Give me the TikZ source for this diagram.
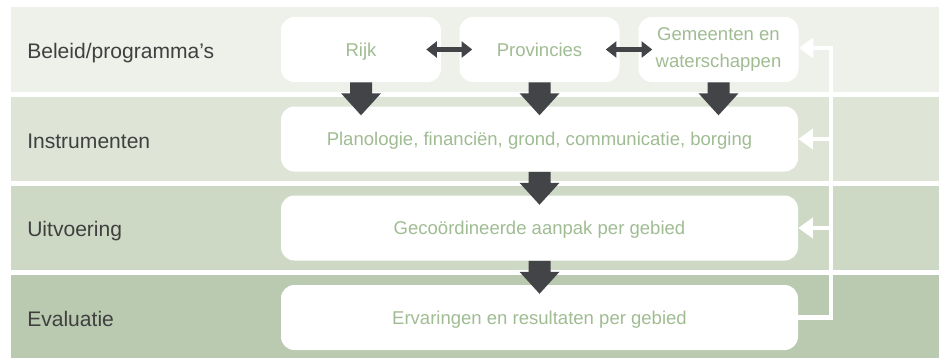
\documentclass[tikz,border=0pt]{standalone}
\usepackage{fontspec}
\setmainfont{Liberation Sans}
\usetikzlibrary{arrows.meta,calc}
\definecolor{bandA}{RGB}{238,240,234}
\definecolor{bandB}{RGB}{222,229,214}
\definecolor{bandC}{RGB}{205,217,197}
\definecolor{bandD}{RGB}{185,202,176}
\definecolor{boxtext}{RGB}{160,188,146}
\definecolor{labelc}{RGB}{64,64,64}
\definecolor{darkc}{RGB}{67,68,72}
\newcommand\blockarrow[1]{%
  \fill[darkc] ($(#1)+(-11,0)$) -- ($(#1)+(-11,11)$) -- ($(#1)+(-20,11)$) -- ($(#1)+(0,33)$)
    -- ($(#1)+(20,11)$) -- ($(#1)+(11,11)$) -- ($(#1)+(11,0)$) -- cycle;}
\begin{document}
\begin{tikzpicture}[x=0.75pt,y=-0.75pt,
  lbl/.style={anchor=west,inner sep=0pt,text=labelc,font=\fontsize{15.8}{19}\selectfont,
    text height=11.3pt,text depth=0pt},
  box/.style={fill=white,rounded corners=10pt,text=boxtext,align=center,
    font=\fontsize{13.9}{20}\selectfont,inner sep=0pt,minimum height=48.75pt},
  onel/.style={text height=9.95pt,text depth=0pt},
  smallbox/.style={box,minimum width=120pt},
  widebox/.style={box,onel,minimum width=387.75pt},
  dbl/.style={draw=darkc,line width=4pt,
    {Triangle[length=8pt,width=12pt]}-{Triangle[length=8pt,width=12pt]}},
  fb/.style={draw=white,line width=3.2pt,line join=miter,-{Triangle[length=11pt,width=15pt]}}
]
\useasboundingbox (0,0) rectangle (939,358);
% bands
\fill[bandA] (11,7) rectangle (939,92);
\fill[bandB] (11,97) rectangle (939,181);
\fill[bandC] (11,186) rectangle (939,270);
\fill[bandD] (11,275) rectangle (939,358);
% labels
\node[lbl] (l1) at (27,51) {Beleid/programma’s};
\node[lbl] (l2) at (27,140.5) {Instrumenten};
\node[lbl] (l3) at (27,229) {Uitvoering};
\node[lbl] (l4) at (27,318.5) {Evaluatie};
% boxes
\node[smallbox,onel] (rijk) at (361,49.5) {Rijk};
\node[smallbox,onel] (prov) at (539.5,49.5) {Provincies};
\node[smallbox] (gem) at (718.5,49.5) {Gemeenten en\\waterschappen};
\node[widebox] (instr) at (539.5,139) {Planologie, financiën, grond, communicatie, borging};
\node[widebox] (uitv) at (539.5,228) {Gecoördineerde aanpak per gebied};
\node[widebox] (eval) at (539.5,317.5) {Ervaringen en resultaten per gebied};
% double arrows
\draw[dbl] ($(rijk.east)+(-15,0)$) -- ($(prov.west)+(13,0)$);
\draw[dbl] ($(prov.east)+(-14,0)$) -- ($(gem.west)+(14,0)$);
% block arrows
\blockarrow{rijk.south}
\blockarrow{prov.south}
\blockarrow{gem.south}
\blockarrow{instr.south}
\blockarrow{uitv.south}
% feedback
\coordinate (fbb) at (831,317.5);
\coordinate (fbt) at (831,48);
\draw[fb] (eval.east) -- (fbb) -- (fbt) -- (gem.east |- fbt);
\draw[fb] (fbb |- instr.east) -- (instr.east);
\draw[fb] (fbb |- uitv.east) -- (uitv.east);
\end{tikzpicture}
\end{document}
